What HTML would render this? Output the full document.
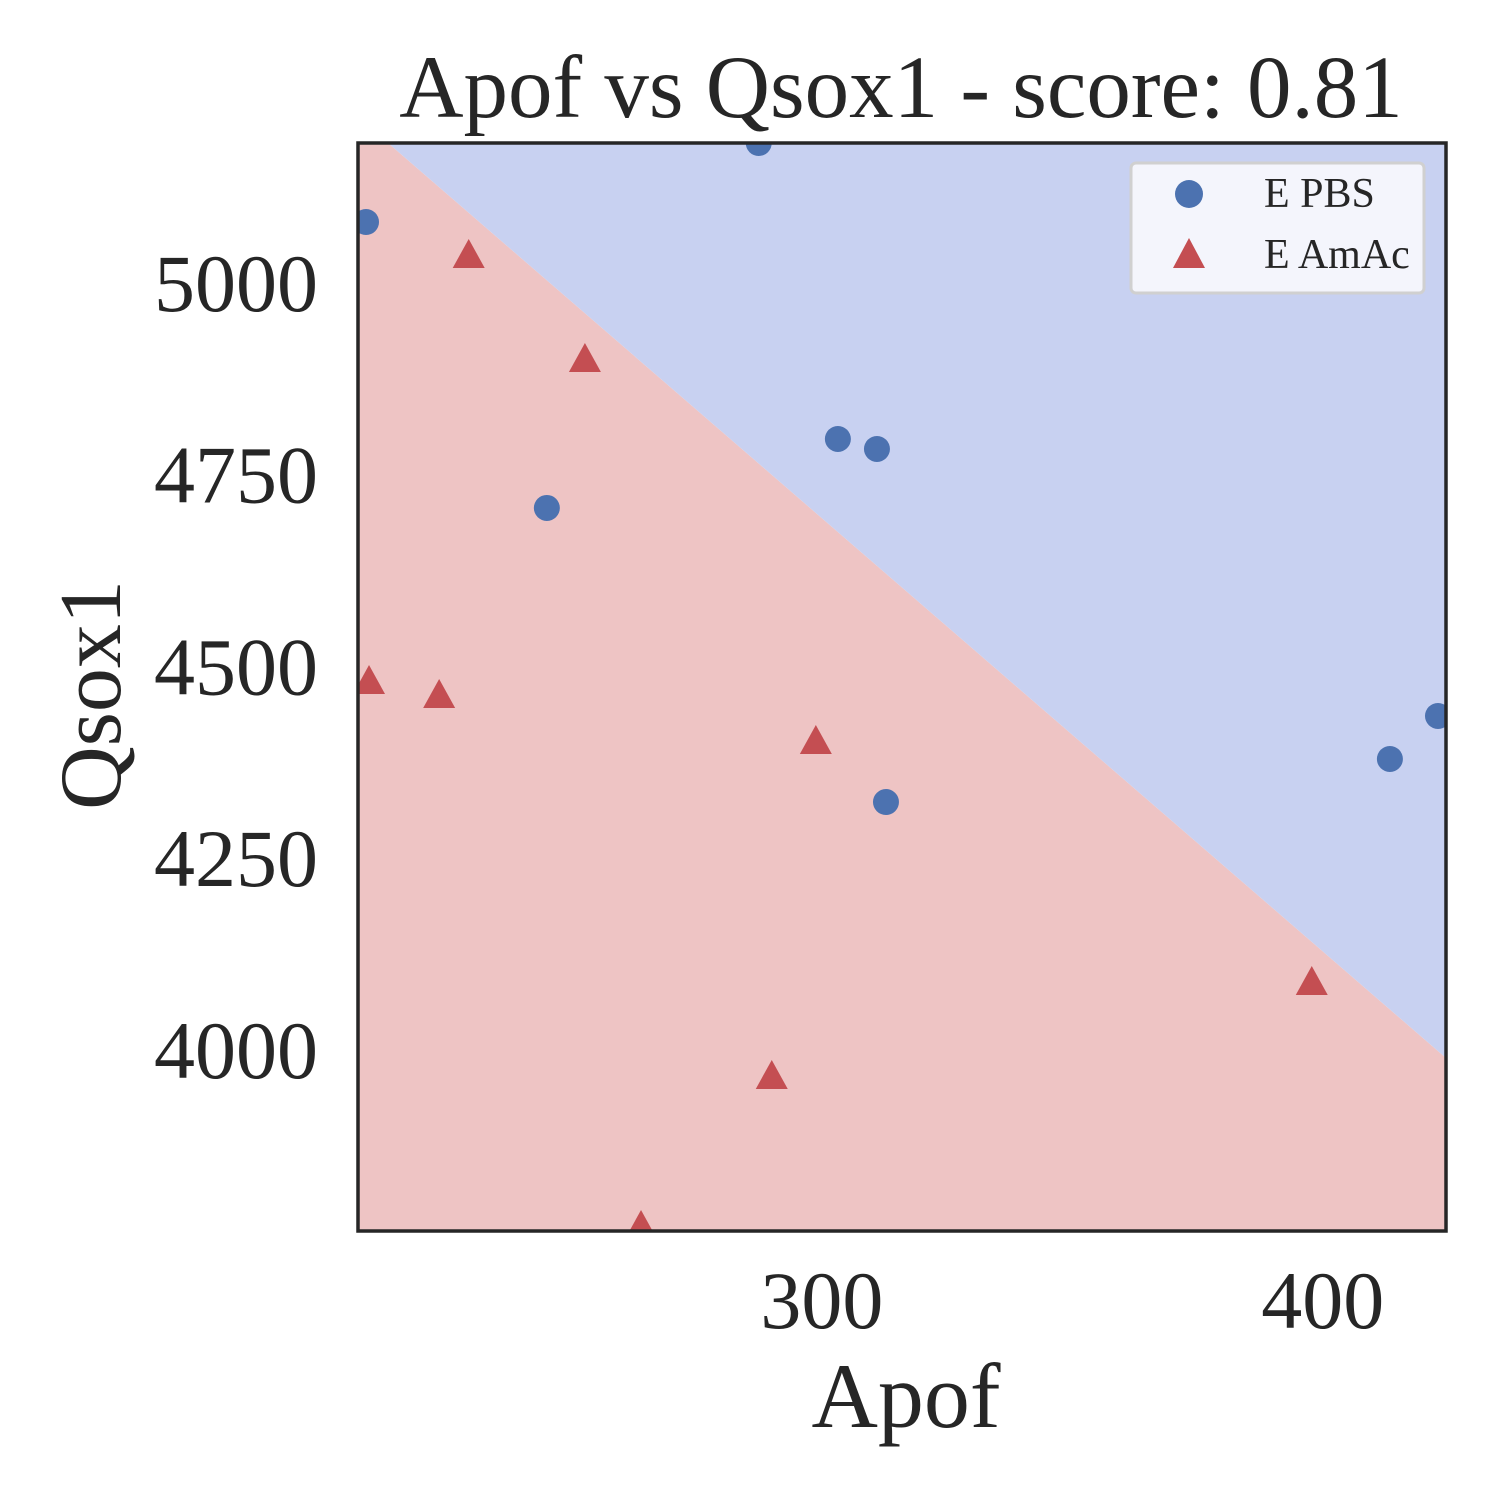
<!DOCTYPE html>
<html><head><meta charset="utf-8"><style>
html,body{margin:0;padding:0;background:#fff;}
svg{display:block;font-family:"Liberation Serif",serif;}
</style></head><body>
<svg id="chart" width="1500" height="1500" viewBox="0 0 1500 1500" xmlns="http://www.w3.org/2000/svg">
<defs><clipPath id="clip"><rect x="358" y="143" width="1088" height="1088"/></clipPath></defs>
<g id="plot" clip-path="url(#clip)"></g>
<rect x="358" y="143" width="1088" height="1088" fill="none" stroke="#262626" stroke-width="3.5"/>
<g id="ticks"></g>
<text x="901" y="117" font-size="89" text-anchor="middle" fill="#262626">Apof vs Qsox1 - score: 0.81</text>
<text x="906" y="1427" font-size="92" text-anchor="middle" fill="#262626">Apof</text>
<text x="0" y="0" font-size="88" text-anchor="middle" fill="#262626" transform="translate(120,695) rotate(-90)">Qsox1</text>
<g>
<rect x="1131" y="163" width="293" height="130" rx="5" fill="#f4f5fc" stroke="#d0d0d0" stroke-width="3"/>
<circle cx="1189" cy="194" r="14" fill="#4c72b0"/>
<text x="1264" y="207" font-size="42" fill="#262626">E PBS</text>
<polygon points="1189,238 1205,268 1173,268" fill="#c44e52"/>
<text x="1264" y="268" font-size="42" fill="#262626">E AmAc</text>
</g>
</svg>
<script>
const xTicks=[300,400];
const yTicks=[4000,4250,4500,4750,5000];
const pbsX=[209.0,287.4,303.2,311.0,245.1,312.8,413.4,423.0];
const pbsY=[5079.5,5182.5,4796.6,4783.6,4706.7,4323.3,4379.4,4435.5];
const amacX=[229.5,252.7,209.6,223.6,298.8,397.8,290.0,263.9];
const amacY=[5035.2,4899.6,4479.8,4461.5,4401.6,4087.4,3964.8,3769.2];
const boundaryX=[213.4,424.6];
const boundaryY=[5182.5,3989.6];
const xDomain=[207.4,424.6], yDomain=[3764,5182.5];
const L=358,R=1446,T=143,B=1231;
const sx=v=>L+(v-xDomain[0])/(xDomain[1]-xDomain[0])*(R-L);
const sy=v=>B-(v-yDomain[0])/(yDomain[1]-yDomain[0])*(B-T);
const NS="http://www.w3.org/2000/svg";
const plot=document.getElementById('plot'), ticks=document.getElementById('ticks');
function mk(tag,attrs,parent){const e=document.createElementNS(NS,tag);for(const k in attrs)e.setAttribute(k,attrs[k]);parent.appendChild(e);return e;}
const bx0=sx(boundaryX[0]),by0=sy(boundaryY[0]),bx1=sx(boundaryX[1]),by1=sy(boundaryY[1]);
const slope=(by1-by0)/(bx1-bx0);
const yAt=x=>by0+(x-bx0)*slope;
const red=mk('polygon',{points:`${L-10},${T-10} ${L-10},${yAt(L-10)} ${R+10},${yAt(R+10)} ${R+10},${B+10} ${L-10},${B+10}`,fill:'#eec4c4'},plot);


const blue=mk('polygon',{points:`${L-10},${T-10} ${L-10},${yAt(L-10)} ${R+10},${yAt(R+10)} ${R+10},${T-10}`,fill:'#c8d1f1'},plot);


pbsX.forEach((x,i)=>{const c=mk('circle',{cx:sx(x),cy:sy(pbsY[i]),r:13,fill:'#4c72b0'},plot);

});
amacX.forEach((x,i)=>{const cx=sx(x),cy=sy(amacY[i]);const p=mk('polygon',{points:`${cx},${cy-17} ${cx+16},${cy+12} ${cx-16},${cy+12}`,fill:'#c44e52'},plot);

});
xTicks.forEach(v=>{const t=mk('text',{x:sx(v),y:1328,'font-size':82,'text-anchor':'middle',fill:'#262626'},ticks);t.textContent=v;

});
yTicks.forEach(v=>{const t=mk('text',{x:318,y:sy(v)+28,'font-size':82,'text-anchor':'end',fill:'#262626'},ticks);t.textContent=v;

});
</script>
</body></html>
